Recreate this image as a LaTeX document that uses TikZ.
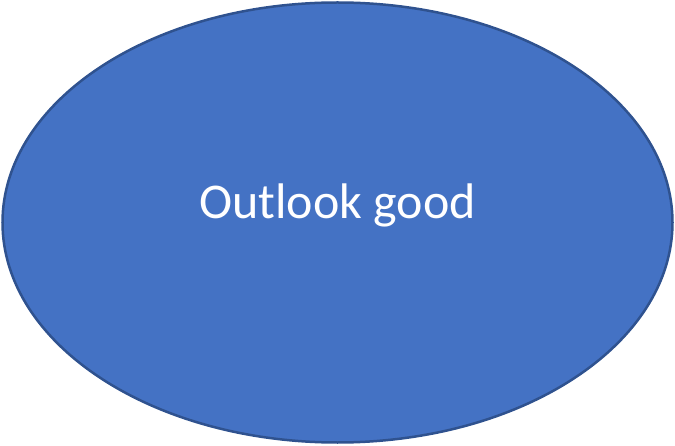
\documentclass[tikz,border=0pt]{standalone}
\usepackage{fontspec}
\setmainfont{Carlito}
\usepackage{tikz}
\usepackage{xcolor}
\usetikzlibrary{shapes.geometric, positioning}

\definecolor{officeblue}{HTML}{4472C4}
\definecolor{officeline}{HTML}{2F528F}

\begin{document}
\begin{tikzpicture}[
  x=1pt, y=1pt,
  outcome/.style={ellipse, draw=officeline, fill=officeblue, line width=2.5pt, minimum width=670pt, minimum height=440pt, inner sep=0pt},
  caption/.style={text=white, font=\fontsize{50}{60}\selectfont, anchor=base}
]
  \useasboundingbox (0,0) rectangle (675,445);

  \node [outcome] (ball) at (337.5,222.5) {};
  \node [caption, yshift=4pt] (answer) at (ball.center) {Outlook good};
\end{tikzpicture}
\end{document}
